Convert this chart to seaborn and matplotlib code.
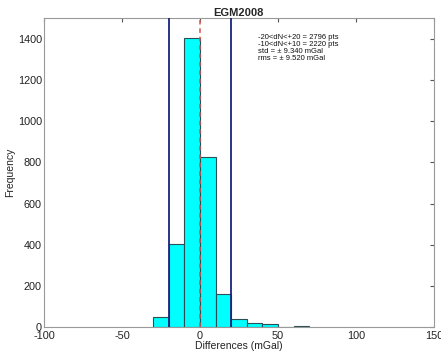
import numpy as np
import pandas as pd
import seaborn as sns
import matplotlib
matplotlib.use("Agg")
import matplotlib.pyplot as plt

# histogram (bin width 10 mGal)
bin_edges = [-30, -20, -10, 0, 10, 20, 30, 40, 50, 60, 70]
counts = [50, 405, 1405, 825, 160, 38, 18, 13, 0, 4]
limit_lines = [-20, 20]
mean_line = 0
stats_text = [
    "-20<dN<+20 = 2796 pts",
    "-10<dN<+10 = 2220 pts",
    "std = \u00b1 9.340 mGal",
    "rms = \u00b1 9.520 mGal",
]

centers = [(a + b) / 2 for a, b in zip(bin_edges[:-1], bin_edges[1:])]
df = pd.DataFrame({"diff": centers, "n": counts})

sns.set_style("white")
plt.rcParams["font.family"] = ["Liberation Sans", "DejaVu Sans"]
plt.rcParams["axes.unicode_minus"] = False

fig = plt.figure(figsize=(4.41, 3.56), dpi=100)
ax = fig.add_axes([0.0998, 0.0815, 0.884, 0.867])

sns.histplot(data=df, x="diff", weights="n", bins=bin_edges, ax=ax,
             color="#00ffff", alpha=1.0, edgecolor="#2a4f55", linewidth=0.8)

for x in limit_lines:
    ax.axvline(x, color="#1a237e", lw=1.3, zorder=5)
ax.axvline(mean_line, color="#d9534f", lw=1.1, ls=(0, (3, 2.5)), zorder=5)

ax.set_xlim(-100, 150)
ax.set_ylim(0, 1500)
ax.set_xticks([-100, -50, 0, 50, 100, 150])
ax.set_yticks([0, 200, 400, 600, 800, 1000, 1200, 1400])
ax.tick_params(direction="in", length=3, labelsize=7.8, color="#555555",
               top=True, right=True, labelcolor="#222222", pad=1.5)
ax.tick_params(axis="x", pad=3)
for s in ax.spines.values():
    s.set_color("#999999")
    s.set_linewidth(0.8)

ax.set_xlabel("Differences (mGal)", fontsize=7.5, labelpad=0, color="#222222")
ax.set_ylabel("Frequency", fontsize=7.5, labelpad=2, color="#222222")
ax.set_title("EGM2008", fontsize=8, fontweight="bold", pad=2)

ax.text(37, 1425, "\n".join(stats_text), fontsize=5.5, va="top", ha="left",
        linespacing=1.0, color="#111111")

fig.savefig("out.png", dpi=100)
